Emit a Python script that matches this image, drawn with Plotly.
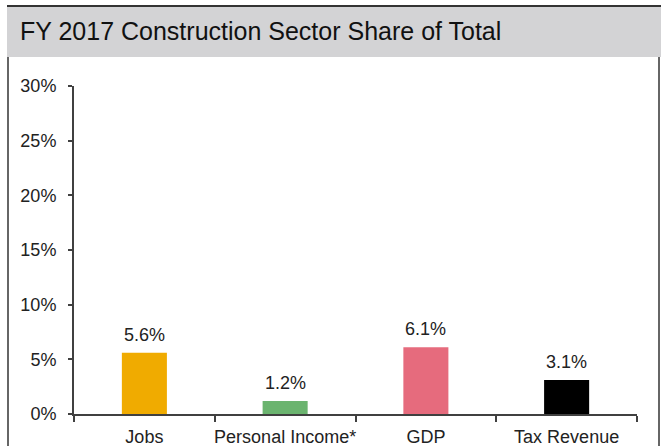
import plotly.graph_objects as go

categories = ["Jobs", "Personal Income*", "GDP", "Tax Revenue"]
values = [5.6, 1.2, 6.1, 3.1]
labels = ["5.6%", "1.2%", "6.1%", "3.1%"]
colors = ["#F0AB00", "#6BB46F", "#E66B7D", "#000000"]
y_ticks = [0, 5, 10, 15, 20, 25, 30]
y_tick_text = ["0%", "5%", "10%", "15%", "20%", "25%", "30%"]

W, H = 661, 446
L, R, T, B = 74, 637, 86, 414
pw, ph = R - L, B - T
FONT = "Liberation Sans, Arial"

def px(x):
    return (x - L) / pw

def py(y):
    return (B - y) / ph

fig = go.Figure(go.Bar(
    x=categories, y=values, marker=dict(color=colors, line=dict(width=0)),
    width=0.32, hoverinfo="skip",
))

shapes = [
    dict(type="rect", xref="paper", yref="paper", x0=px(7), x1=px(661), y0=py(57), y1=py(6),
         fillcolor="#D3D3D5", line=dict(width=0), layer="below"),
    dict(type="line", xref="paper", yref="paper", x0=px(7), x1=px(661), y0=py(6), y1=py(6),
         line=dict(color="#333333", width=2)),
    dict(type="line", xref="paper", yref="paper", x0=px(8), x1=px(8), y0=py(57), y1=py(446),
         line=dict(color="#333333", width=1.5)),
    dict(type="line", xref="paper", yref="paper", x0=px(659), x1=px(659), y0=py(57), y1=py(446),
         line=dict(color="#333333", width=1.5)),
]

annotations = [dict(text="FY 2017 Construction Sector Share of Total", xref="paper", yref="paper",
                    x=px(17.5), y=py(31), xanchor="left", yanchor="middle", showarrow=False,
                    font=dict(family=FONT, size=25, color="#111"))]
for c, v, t in zip(categories, values, labels):
    annotations.append(dict(text=t, x=c, y=v, xref="x", yref="y", xanchor="center",
                            yanchor="bottom", yshift=6, showarrow=False,
                            font=dict(family=FONT, size=18, color="#222")))

fig.update_layout(
    width=W, height=H,
    margin=dict(l=L, r=W - R, t=T, b=H - B, pad=0, autoexpand=False),
    paper_bgcolor="white", plot_bgcolor="white",
    showlegend=False,
    font=dict(family=FONT, size=18, color="#222"),
    shapes=shapes,
    annotations=annotations,
)
fig.update_yaxes(range=[0, 30], tickvals=y_ticks, ticktext=y_tick_text, showgrid=False,
                 showline=True, linecolor="#404040", linewidth=2, ticks="outside", ticklen=4,
                 tickcolor="#404040", tickwidth=2, zeroline=False, fixedrange=True,
                 ticklabelstandoff=8, automargin=False)
fig.update_xaxes(showgrid=False, showline=True, linecolor="#404040", linewidth=2,
                 ticks="outside", ticklen=6, tickcolor="#404040", tickwidth=2,
                 tickson="boundaries", range=[-0.5, 3.5], fixedrange=True,
                 tickangle=0, automargin=False, ticklabelstandoff=5)

fig.write_html("out.html", post_script="document.body.style.margin='0';",
               config={"displayModeBar": False})
